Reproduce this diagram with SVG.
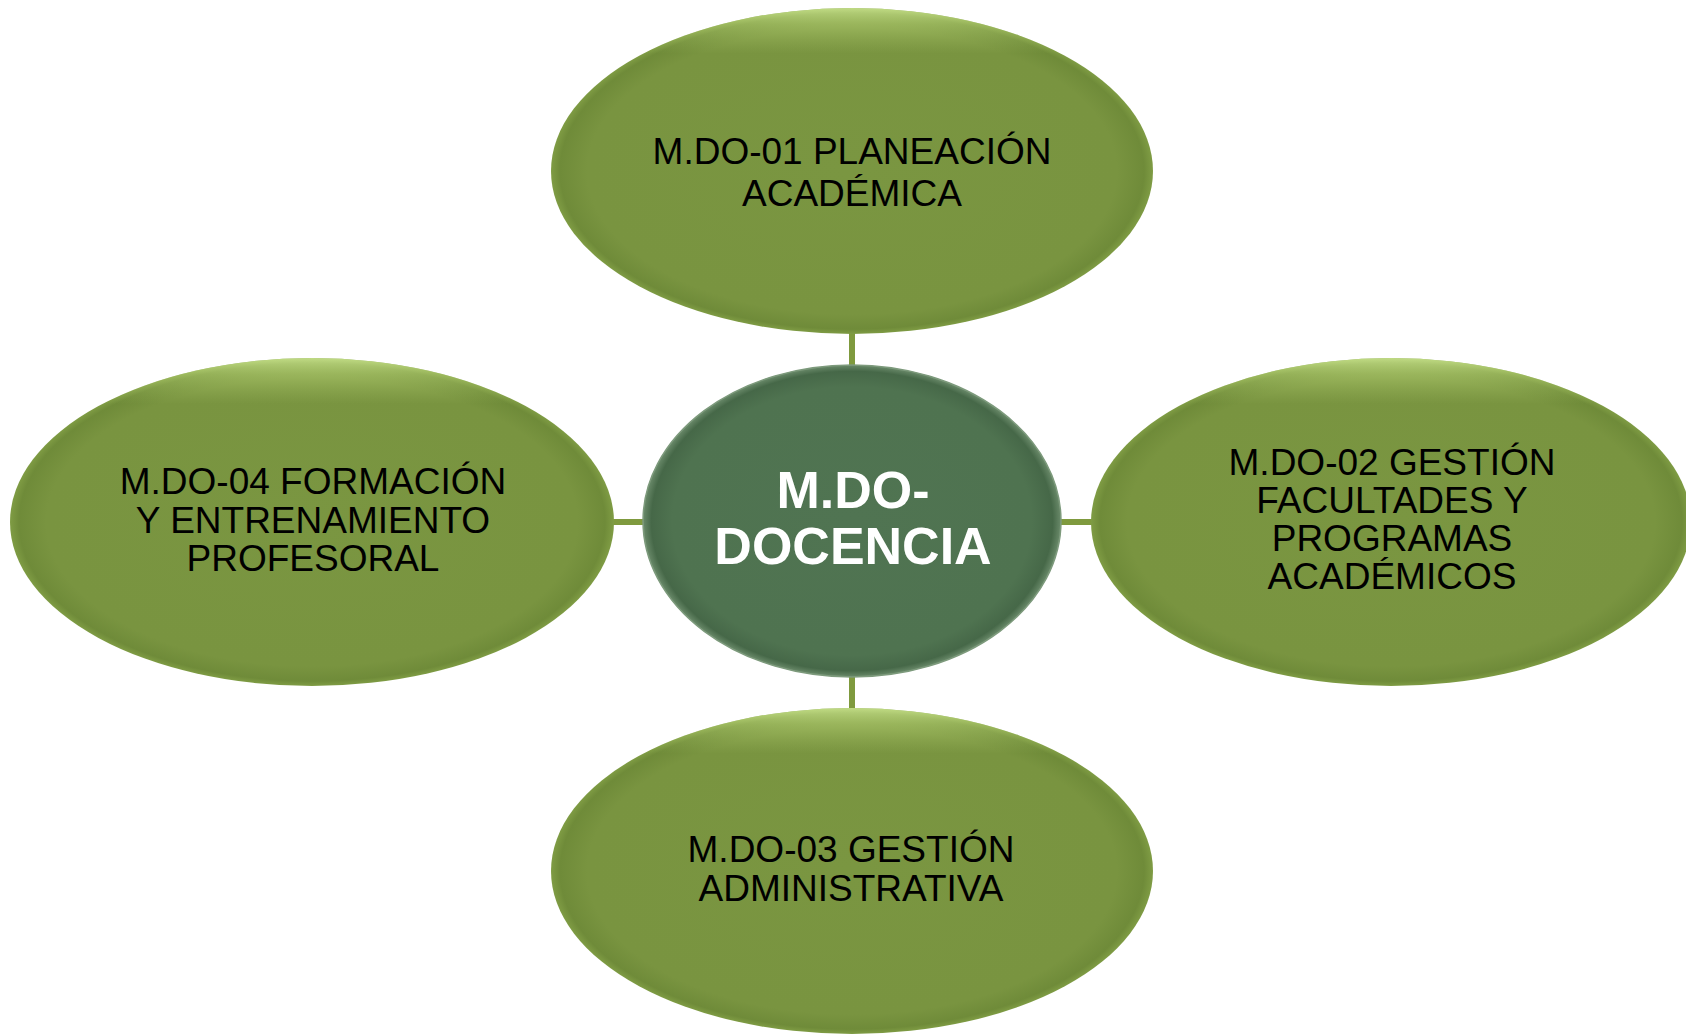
<svg xmlns="http://www.w3.org/2000/svg" width="1686" height="1034" viewBox="0 0 1686 1034">
  <style>
    .lbl { font-family: "Liberation Sans", Arial, sans-serif; font-size: 37px; fill: #000000; text-anchor: middle; }
    .ctr { font-family: "Liberation Sans", Arial, sans-serif; font-size: 52px; font-weight: bold; fill: #ffffff; text-anchor: middle; }
    .conn { stroke: #7f9a3e; stroke-width: 6; fill: none; }
    .base { fill: url(#gBase); }
    .hl { fill: url(#gHl); }
  </style>
  <defs>
    <radialGradient id="gBase" cx="50%" cy="50%" r="50%">
      <stop offset="0%" stop-color="#7a9641"/>
      <stop offset="88%" stop-color="#799440"/>
      <stop offset="97%" stop-color="#6f8b39"/>
      <stop offset="100%" stop-color="#7f9c44"/>
    </radialGradient>
    <linearGradient id="gHl" x1="0" y1="0" x2="0" y2="1">
      <stop offset="0%" stop-color="#d6f09a" stop-opacity="0.75"/>
      <stop offset="5%" stop-color="#c4e07f" stop-opacity="0.45"/>
      <stop offset="14%" stop-color="#b0cc6c" stop-opacity="0"/>
      <stop offset="100%" stop-color="#b0cc6c" stop-opacity="0"/>
    </linearGradient>
    <radialGradient id="gCtr" cx="50%" cy="50%" r="50%">
      <stop offset="0%" stop-color="#507452"/>
      <stop offset="86%" stop-color="#4f7350"/>
      <stop offset="96%" stop-color="#466848"/>
      <stop offset="100%" stop-color="#6a8a6a"/>
    </radialGradient>
  </defs>

  <g id="connectors">
    <line class="conn" x1="852" y1="330" x2="852" y2="368"/>
    <line class="conn" x1="852" y1="674" x2="852" y2="712"/>
    <line class="conn" x1="608" y1="522" x2="646" y2="522"/>
    <line class="conn" x1="1058" y1="522" x2="1094" y2="522"/>
  </g>

  <g id="node-mdo01">
    <ellipse class="base" cx="852" cy="171" rx="301" ry="163"/>
    <ellipse class="hl" cx="852" cy="171" rx="301" ry="163"/>
    <text class="lbl" x="852" y="164">M.DO-01 PLANEACIÓN</text>
    <text class="lbl" x="852" y="206">ACADÉMICA</text>
  </g>

  <g id="node-mdo04">
    <ellipse class="base" cx="312" cy="522" rx="302" ry="164"/>
    <ellipse class="hl" cx="312" cy="522" rx="302" ry="164"/>
    <text class="lbl" x="313" y="494">M.DO-04 FORMACIÓN</text>
    <text class="lbl" x="313" y="533">Y ENTRENAMIENTO</text>
    <text class="lbl" x="313" y="571">PROFESORAL</text>
  </g>

  <g id="node-mdo02">
    <ellipse class="base" cx="1391" cy="522" rx="300" ry="164"/>
    <ellipse class="hl" cx="1391" cy="522" rx="300" ry="164"/>
    <text class="lbl" x="1392" y="475">M.DO-02 GESTIÓN</text>
    <text class="lbl" x="1392" y="513">FACULTADES Y</text>
    <text class="lbl" x="1392" y="551">PROGRAMAS</text>
    <text class="lbl" x="1392" y="589">ACADÉMICOS</text>
  </g>

  <g id="node-mdo03">
    <ellipse class="base" cx="852" cy="871" rx="301" ry="163"/>
    <ellipse class="hl" cx="852" cy="871" rx="301" ry="163"/>
    <text class="lbl" x="851" y="862">M.DO-03 GESTIÓN</text>
    <text class="lbl" x="851" y="901">ADMINISTRATIVA</text>
  </g>

  <g id="node-center">
    <ellipse cx="852" cy="521" rx="209" ry="156" fill="url(#gCtr)" stroke="#7d9a7c" stroke-width="1.5"/>
    <text class="ctr" x="853" y="508">M.DO-</text>
    <text class="ctr" x="853" y="564">DOCENCIA</text>
  </g>
</svg>
